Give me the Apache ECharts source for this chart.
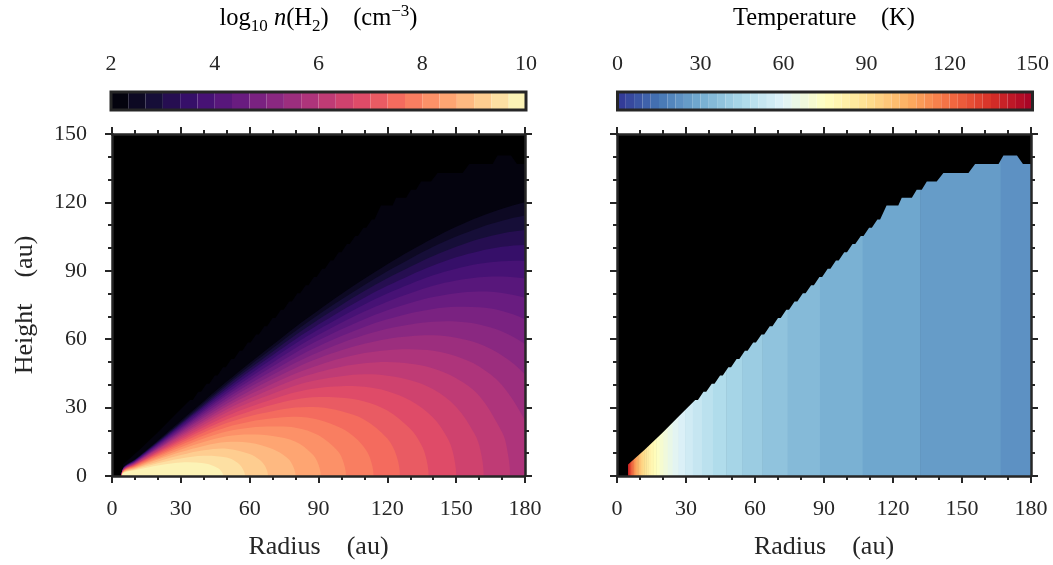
<!DOCTYPE html>
<html>
<head>
<meta charset="utf-8">
<script src="https://cdn.jsdelivr.net/npm/echarts@6/dist/echarts.min.js"></script>
<style>
  html, body { margin: 0; padding: 0; background: #ffffff; }
  #chart { width: 1053px; height: 565px; }
</style>
</head>
<body>
<div id="chart"></div>
<script>
// ---------- axis ticks ----------
const radiusTicks = [0, 30, 60, 90, 120, 150, 180];
const heightTicks = [0, 30, 60, 90, 120, 150];
const densityTicks = [2, 4, 6, 8, 10];
const temperatureTicks = [0, 30, 60, 90, 120, 150];

// ---------- filled-contour levels ----------
// log10 n(H2) levels (cm^-3)
const densityLevels = [2, 2.333, 2.667, 3, 3.333, 3.667, 4, 4.333, 4.667, 5, 5.333, 5.667,
  6, 6.333, 6.667, 7, 7.333, 7.667, 8, 8.333, 8.667, 9, 9.333, 9.667, 10];
// temperature levels (K)
const temperatureLevels = [0, 3, 6, 9, 12, 15, 18, 21, 24, 27, 30, 33, 36, 39, 42, 45, 48, 51,
  54, 57, 60, 63, 66, 69, 72, 75, 78, 81, 84, 87, 90, 93, 96, 99, 102, 105, 108, 111, 114,
  117, 120, 123, 126, 129, 132, 135, 138, 141, 144, 147, 150];

// ---------- model grid surface (stepped upper edge of the computed domain), au ----------
const surfaceRadius = [4.8, 12, 20, 27, 34, 35.2, 37.6, 38.8, 41.2, 42.4, 44.8, 46, 48.4,
  49.6, 52, 53.2, 55.6, 56.8, 59.2, 60.4, 62.8, 64, 66.4, 67.6, 70, 71.2, 73.6, 74.8, 77.2,
  78.4, 80.8, 82, 84.4, 85.6, 88, 89.2, 91.6, 92.8, 95.2, 96.4, 98.8, 100, 102.4, 103.6, 106,
  107.2, 109.6, 110.8, 113.2, 114.4, 117.2, 122.3, 123.8, 128.2, 130.3, 132.5, 134.7, 139,
  141.9, 152.8, 155.7, 165.9, 168, 173.9, 176.5, 180];
const surfaceHeight = [5, 11.5, 19.2, 26.3, 33.3, 33.3, 36.9, 36.9, 40.5, 40.5, 44.1, 44.1,
  47.7, 47.7, 51.3, 51.3, 54.9, 54.9, 58.5, 58.5, 62.1, 62.1, 65.7, 65.7, 69.3, 69.3, 72.9,
  72.9, 76.5, 76.5, 80.1, 80.1, 83.7, 83.7, 87.3, 87.3, 90.9, 90.9, 94.5, 94.5, 98.1, 98.1,
  101.7, 101.7, 105.3, 105.3, 108.9, 108.9, 112.5, 112.5, 118.6, 118.6, 122, 122, 125.6,
  125.6, 129.2, 129.2, 132.9, 132.9, 136.8, 136.8, 140.6, 140.6, 136.8, 136.8];

// ---------- density contours: [radius, height] (au) of each level, densityLevels[1..23] ----------
const densityContours = [
  [[4.8,3.4],[10,7.3],[15,11.4],[20,15.6],[30,24.2],[40,32.8],[50,41.4],[60,49.6],[70,57.5],[80,65.4],[90,72.7],[100,79.8],[110,86.5],[120,92.9],[130,98.8],[140,104.3],[150,109.3],[160,113.6],[170,117.2],[180,120.1],[190,122.1]],
  [[4.8,3.3],[10,7.1],[15,11.1],[20,15.2],[30,23.6],[40,32.1],[50,40.4],[60,48.4],[70,56.0],[80,63.6],[90,70.7],[100,77.4],[110,83.8],[120,89.8],[130,95.3],[140,100.5],[150,105.0],[160,108.8],[170,111.9],[180,114.2],[190,115.5]],
  [[4.8,3.2],[10,7.0],[15,10.9],[20,14.9],[30,23.1],[40,31.3],[50,39.5],[60,47.1],[70,54.5],[80,61.8],[90,68.6],[100,75.0],[110,81.1],[120,86.7],[130,91.8],[140,96.5],[150,100.5],[160,103.9],[170,106.4],[180,107.9],[190,108.5]],
  [[4.8,3.2],[10,6.8],[15,10.7],[20,14.6],[30,22.6],[40,30.6],[50,38.4],[60,45.9],[70,53.0],[80,60.0],[90,66.4],[100,72.5],[110,78.2],[120,83.4],[130,88.1],[140,92.3],[150,95.9],[160,98.6],[170,100.5],[180,101.3],[190,101.2]],
  [[4.8,3.1],[10,6.7],[15,10.4],[20,14.2],[30,22.0],[40,29.8],[50,37.4],[60,44.5],[70,51.4],[80,58.1],[90,64.2],[100,69.9],[110,75.2],[120,80.0],[130,84.2],[140,88.0],[150,90.9],[160,93.1],[170,94.2],[180,94.3],[190,93.1]],
  [[4.8,3.0],[10,6.5],[15,10.2],[20,13.9],[30,21.4],[40,29.0],[50,36.3],[60,43.2],[70,49.7],[80,56.1],[90,61.9],[100,67.2],[110,72.1],[120,76.4],[130,80.1],[140,83.4],[150,85.7],[160,87.2],[170,87.5],[180,86.6],[190,84.3]],
  [[4.8,2.9],[10,6.3],[15,9.9],[20,13.5],[30,20.8],[40,28.2],[50,35.3],[60,41.8],[70,48.0],[80,54.1],[90,59.5],[100,64.4],[110,68.8],[120,72.7],[130,75.9],[140,78.5],[150,80.2],[160,80.9],[170,80.3],[180,78.2],[190,74.6]],
  [[4.8,2.9],[10,6.2],[15,9.6],[20,13.1],[30,20.2],[40,27.3],[50,34.1],[60,40.4],[70,46.2],[80,51.9],[90,56.9],[100,61.4],[110,65.4],[120,68.7],[130,71.4],[140,73.3],[150,74.2],[160,74.0],[170,72.4],[180,68.8],[190,63.2]],
  [[4.8,2.8],[10,6.0],[15,9.3],[20,12.7],[30,19.6],[40,26.4],[50,33.0],[60,38.9],[70,44.4],[80,49.7],[90,54.3],[100,58.3],[110,61.8],[120,64.6],[130,66.5],[140,67.7],[150,67.8],[160,66.5],[170,63.4],[180,57.9],[190,49.3]],
  [[4.8,2.7],[10,5.8],[15,9.1],[20,12.3],[30,19.0],[40,25.5],[50,31.7],[60,37.3],[70,42.5],[80,47.4],[90,51.6],[100,55.1],[110,58.0],[120,60.1],[130,61.3],[140,61.7],[150,60.6],[160,58.0],[170,52.9],[180,44.5],[190,29.5]],
  [[4.8,2.6],[10,5.6],[15,8.8],[20,11.9],[30,18.3],[40,24.5],[50,30.5],[60,35.7],[70,40.5],[80,45.0],[90,48.6],[100,51.6],[110,53.9],[120,55.2],[130,55.6],[140,54.9],[150,52.5],[160,48.0],[170,39.8],[180,24.3],[183,15.4],[185,0]],
  [[4.8,2.5],[10,5.4],[15,8.5],[20,11.5],[30,17.6],[40,23.6],[50,29.2],[60,34.0],[70,38.4],[80,42.4],[90,45.5],[100,47.9],[110,49.4],[120,50.0],[130,49.2],[140,47.2],[150,42.9],[160,35.2],[170,19.2],[172,12.8],[173.5,0]],
  [[4.8,2.4],[10,5.2],[15,8.1],[20,11.0],[30,16.9],[40,22.5],[50,27.8],[60,32.2],[70,36.1],[80,39.7],[90,42.2],[100,43.8],[110,44.6],[120,44.0],[130,42.0],[140,38.0],[150,30.3],[158,18.5],[160.5,11.6],[162,0]],
  [[4.8,2.3],[10,5.0],[15,7.8],[20,10.6],[30,16.1],[40,21.4],[50,26.3],[60,30.3],[70,33.7],[80,36.7],[90,38.6],[100,39.4],[110,39.1],[120,37.2],[130,33.1],[140,25.6],[146,17.0],[148.5,10.6],[150,0]],
  [[4.8,2.2],[10,4.8],[15,7.5],[20,10.1],[30,15.3],[40,20.3],[50,24.8],[60,28.3],[70,31.2],[80,33.5],[90,34.6],[100,34.3],[110,32.7],[120,28.7],[130,20.7],[134,15.1],[136.5,9.4],[138,0]],
  [[4.8,2.1],[10,4.6],[15,7.1],[20,9.6],[30,14.5],[40,19.1],[50,23.2],[60,26.2],[70,28.4],[80,30.0],[90,30.1],[100,28.4],[110,24.7],[120,16.4],[124,8.8],[125.5,0]],
  [[4.8,2.0],[10,4.4],[15,6.7],[20,9.0],[30,13.6],[40,17.8],[50,21.4],[60,23.8],[70,25.3],[80,26.0],[90,24.7],[100,20.9],[106,16.8],[110,12.4],[112.5,7.8],[114,0]],
  [[4.8,1.9],[10,4.1],[15,6.3],[20,8.5],[30,12.6],[40,16.4],[50,19.5],[60,21.2],[70,21.7],[80,21.2],[90,17.9],[98,11.4],[100.5,7.1],[102,0]],
  [[4.8,1.8],[10,3.8],[15,5.9],[20,7.8],[30,11.6],[40,14.9],[50,17.4],[60,18.2],[70,17.5],[80,15.0],[87,9.9],[89.5,6.3],[91,0]],
  [[4.8,1.6],[10,3.5],[15,5.4],[20,7.2],[30,10.5],[40,13.2],[50,14.9],[60,14.6],[70,11.8],[76,8.2],[78.5,5.2],[80,0]],
  [[4.8,1.5],[10,3.2],[15,4.9],[20,6.4],[30,9.2],[40,11.3],[50,12.0],[60,9.7],[64,7.4],[66.5,4.7],[68,0]],
  [[4.8,1.3],[10,2.9],[15,4.3],[20,5.6],[30,7.7],[40,8.9],[50,8.1],[54,6.3],[56.5,4.0],[58,0]],
  [[4.8,1.2],[10,2.5],[15,3.6],[20,4.6],[30,5.9],[40,5.6],[44.5,4.3],[47,2.8],[48.5,0]]
];

// ---------- temperature: radial zones (edges in au) and temperature in each (K) ----------
const temperatureEdges = [4.8, 5.05, 5.27, 5.52, 5.78, 6.05, 6.35, 6.67, 7.02, 7.39, 7.80,
  8.24, 8.72, 9.24, 9.81, 10.43, 11.11, 11.86, 12.70, 13.62, 14.65, 15.80, 17.08, 18.54,
  20.18, 22.06, 24.21, 26.69, 29.58, 32.96, 36.95, 41.71, 47.46, 54.48, 63.18, 74.15,
  88.25, 106.8, 131.8, 166.8, 180];
const temperatureValues = [139.5, 136.5, 133.5, 130.5, 127.5, 124.5, 121.5, 118.5, 115.5,
  112.5, 109.5, 106.5, 103.5, 100.5, 97.5, 94.5, 91.5, 88.5, 85.5, 82.5, 79.5, 76.5, 73.5,
  70.5, 67.5, 64.5, 61.5, 58.5, 55.5, 52.5, 49.5, 46.5, 43.5, 40.5, 37.5, 34.5, 31.5, 28.5,
  25.5, 22.5];

// ---------- styling ----------
const INK = '#262626';
const FONT = 'Liberation Serif';
const MAGMA = ['#000004', '#140e36', '#3b0f70', '#641a80', '#8c2981', '#b73779',
  '#de4968', '#f7705c', '#fe9f6d', '#fecf92', '#fcfdbf'];
const RDYLBU_R = ['#313695', '#4575b4', '#74add1', '#abd9e9', '#e0f3f8', '#ffffbf',
  '#fee090', '#fdae61', '#f46d43', '#d73027', '#a50026'];

function hexRgb(h) { return [1, 3, 5].map(i => parseInt(h.slice(i, i + 2), 16)); }
function sampleMap(stops, t) {
  t = Math.min(1, Math.max(0, t));
  const x = t * (stops.length - 1);
  const i = Math.min(stops.length - 2, Math.floor(x));
  const f = x - i;
  const a = hexRgb(stops[i]), b = hexRgb(stops[i + 1]);
  return 'rgb(' + a.map((v, n) => Math.round(v + (b[n] - v) * f)).join(',') + ')';
}
// colour of the k-th filled band (between levels[k] and levels[k+1])
function bandColor(stops, levels, k) { return sampleMap(stops, (k + 0.5) / (levels.length - 1)); }
function bandOf(levels, v) {
  for (let k = 0; k < levels.length - 1; k++) if (v < levels[k + 1]) return k;
  return levels.length - 2;
}

function axisRange(ticks) {
  return { min: ticks[0], max: ticks[ticks.length - 1], interval: ticks[1] - ticks[0] };
}

// one framed axis of a panel: ticks point outward on every side
function frameAxis(gridIndex, ticks, position, showLabels, name, nameGap, labelMargin) {
  return Object.assign({
    gridIndex, type: 'value', position, z: 10,
    axisLine: { show: true, onZero: false, lineStyle: { color: INK, width: 2.5 } },
    axisTick: { show: true, length: 7, lineStyle: { color: INK, width: 2 } },
    minorTick: { show: true, splitNumber: 3, length: 4, lineStyle: { color: INK, width: 2 } },
    splitLine: { show: false },
    minorSplitLine: { show: false },
    axisLabel: { show: showLabels, margin: labelMargin, fontFamily: FONT, fontSize: 22, color: INK },
    name: name || '', nameLocation: 'middle', nameGap: nameGap || 0,
    nameTextStyle: { fontFamily: FONT, fontSize: 26, color: INK }
  }, axisRange(ticks));
}

function colorbarAxis(gridIndex, ticks) {
  return Object.assign({
    gridIndex, type: 'value', position: 'top',
    axisLine: { show: false }, axisTick: { show: false }, splitLine: { show: false },
    axisLabel: { margin: 17, fontFamily: FONT, fontSize: 22, color: INK }
  }, axisRange(ticks));
}

function hiddenAxis(gridIndex) {
  return { gridIndex, type: 'value', min: 0, max: 1, show: false };
}

// ---------- series ----------
const densitySeries = {
  type: 'custom', xAxisIndex: 0, yAxisIndex: 0, clip: true, silent: true,
  data: densityLevels.slice(0, densityLevels.length - 1).map(v => [v]),
  renderItem(params, api) {
    const i = params.dataIndex;
    const fill = bandColor(MAGMA, densityLevels, i);
    if (i === 0) {
      // lowest band fills the whole computed domain
      const pts = surfaceRadius.map((r, n) => api.coord([r, surfaceHeight[n]]));
      const last = surfaceHeight[surfaceHeight.length - 1];
      pts.push(api.coord([186, last]), api.coord([186, -6]), api.coord([surfaceRadius[0], -6]));
      return { type: 'polygon', shape: { points: pts }, style: { fill } };
    }
    // region above level i; mirrored below the midplane so the arcs meet it vertically
    const c = densityContours[i - 1];
    const upper = c.map(p => api.coord([p[0], p[1]]));
    const lower = c.slice().reverse().filter(p => p[1] > 0).map(p => api.coord([p[0], -p[1]]));
    return {
      type: 'polygon',
      shape: { points: upper.concat(lower), smooth: 0.35 },
      style: { fill }
    };
  }
};

const temperatureCells = temperatureValues.map((t, n) => [temperatureEdges[n], temperatureEdges[n + 1], t]);
const temperatureSeries = {
  type: 'custom', xAxisIndex: 2, yAxisIndex: 2, clip: true, silent: true,
  data: temperatureCells.concat([[0, 0, -1]]),
  renderItem(params, api) {
    const t = api.value(2);
    if (t < 0) {
      // everything above the domain surface stays black
      const pts = surfaceRadius.map((r, n) => api.coord([r, surfaceHeight[n]]));
      const last = surfaceHeight[surfaceHeight.length - 1];
      pts.push(api.coord([186, last]), api.coord([186, 160]), api.coord([-5, 160]),
        api.coord([-5, surfaceHeight[0]]));
      return { type: 'polygon', shape: { points: pts }, style: { fill: '#000000' } };
    }
    const a = api.coord([api.value(0), 0]);
    const b = api.coord([api.value(1), heightTicks[heightTicks.length - 1]]);
    return {
      type: 'rect',
      shape: { x: a[0], y: b[1], width: b[0] - a[0] + 0.6, height: a[1] - b[1] },
      style: { fill: bandColor(RDYLBU_R, temperatureLevels, bandOf(temperatureLevels, t)) }
    };
  }
};

function colorbarSeries(axisIndex, levels, stops) {
  const items = levels.slice(0, levels.length - 1).map((v, k) => [v, levels[k + 1], k]);
  items.push([levels[0], levels[levels.length - 1], -1]);
  return {
    type: 'custom', xAxisIndex: axisIndex, yAxisIndex: axisIndex, clip: false, silent: true,
    data: items,
    renderItem(params, api) {
      const k = api.value(2);
      const a = api.coord([api.value(0), 0]);
      const b = api.coord([api.value(1), 1]);
      const shape = { x: a[0], y: b[1], width: b[0] - a[0], height: a[1] - b[1] };
      if (k < 0) {
        return { type: 'rect', shape, style: { fill: null, stroke: INK, lineWidth: 3 } };
      }
      return { type: 'rect', shape, style: { fill: bandColor(stops, levels, k) } };
    }
  };
}

// ---------- chart ----------
const chart = echarts.init(document.getElementById('chart'), null,
  { renderer: 'canvas', width: 1053, height: 565 });

const titleRich = {
  t: { fontFamily: FONT, fontSize: 24.5, color: INK, lineHeight: 32 },
  i: { fontFamily: FONT, fontSize: 24.5, fontStyle: 'italic', color: INK, lineHeight: 32 },
  s: { fontFamily: FONT, fontSize: 17, color: INK, lineHeight: 17, verticalAlign: 'bottom' },
  p: { fontFamily: FONT, fontSize: 17, color: INK, lineHeight: 17, verticalAlign: 'top' }
};

chart.setOption({
  animation: false,
  backgroundColor: '#ffffff',
  grid: [
    { left: 112, top: 134, width: 413, height: 344, show: true, backgroundColor: '#000000', borderWidth: 0 },
    { left: 617, top: 134, width: 414, height: 344, show: true, backgroundColor: '#000000', borderWidth: 0 },
    { left: 111, top: 92, width: 415, height: 18 },
    { left: 617.5, top: 92, width: 415, height: 18 }
  ],
  xAxis: [
    frameAxis(0, radiusTicks, 'bottom', true, 'Radius\u2003(au)', 58, 22),
    frameAxis(0, radiusTicks, 'top', false),
    frameAxis(1, radiusTicks, 'bottom', true, 'Radius\u2003(au)', 58, 22),
    frameAxis(1, radiusTicks, 'top', false),
    colorbarAxis(2, densityTicks),
    colorbarAxis(3, temperatureTicks)
  ],
  yAxis: [
    Object.assign(frameAxis(0, heightTicks, 'left', true, 'Height\u2003(au)', 74, 25), { nameRotate: 90 }),
    frameAxis(0, heightTicks, 'right', false),
    frameAxis(1, heightTicks, 'left', false),
    frameAxis(1, heightTicks, 'right', false),
    hiddenAxis(2),
    hiddenAxis(3)
  ],
  graphic: [
    {
      type: 'text', x: 318.5, y: 19, silent: true,
      style: {
        text: '{t|log}{s|10}{t| }{i|n}{t|(H}{s|2}{t|)\u2003(cm}{p|\u22123}{t|)}',
        rich: titleRich, align: 'center', verticalAlign: 'middle'
      }
    },
    {
      type: 'text', x: 824, y: 19, silent: true,
      style: {
        text: '{t|Temperature\u2003(K)}',
        rich: titleRich, align: 'center', verticalAlign: 'middle'
      }
    }
  ],
  series: [
    densitySeries,
    temperatureSeries,
    colorbarSeries(4, densityLevels, MAGMA),
    colorbarSeries(5, temperatureLevels, RDYLBU_R)
  ]
});
</script>
</body>
</html>
